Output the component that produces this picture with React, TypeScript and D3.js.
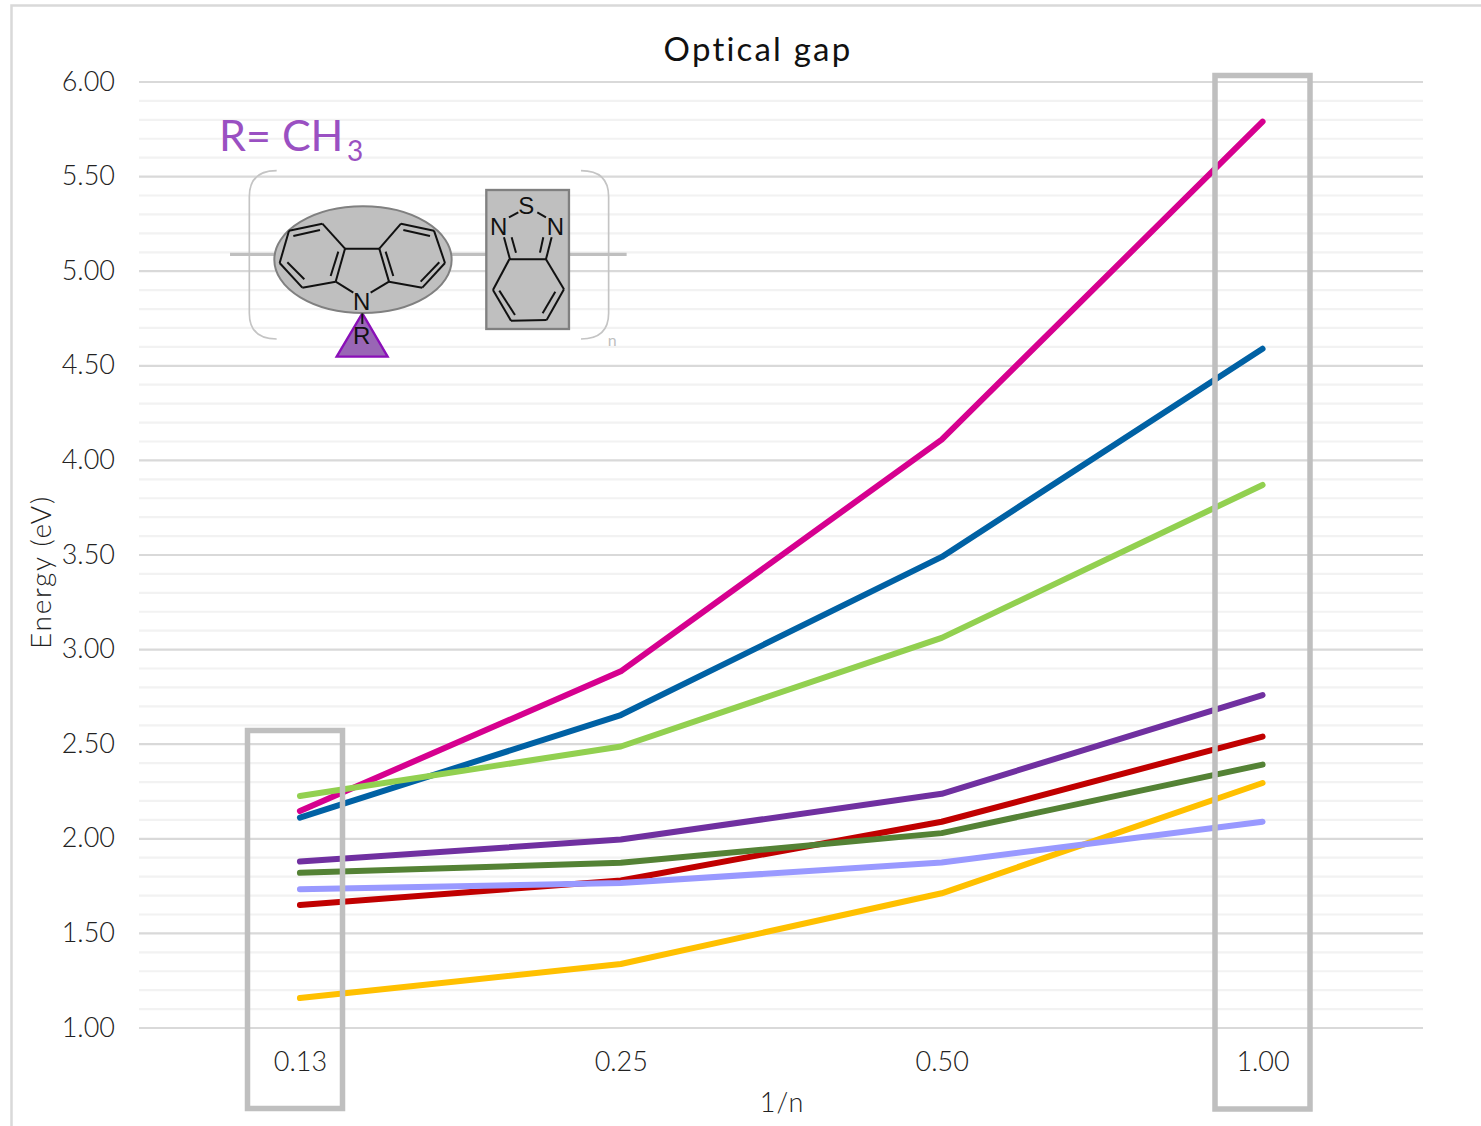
import React from "react";
import * as d3 from "d3";

const categories = ["0.13", "0.25", "0.50", "1.00"];
const magenta = [2.147, 2.885, 4.11, 5.79];
const blue = [2.112, 2.654, 3.49, 4.59];
const lightGreen = [2.226, 2.488, 3.062, 3.87];
const purple = [1.88, 1.996, 2.238, 2.76];
const red = [1.65, 1.78, 2.09, 2.54];
const darkGreen = [1.82, 1.873, 2.03, 2.392];
const yellow = [1.158, 1.338, 1.712, 2.295];
const lavender = [1.733, 1.766, 1.875, 2.09];

const seriesList: [number[], string][] = [
  [magenta, "#d6008f"],
  [blue, "#0061a4"],
  [lightGreen, "#92d050"],
  [purple, "#7030a0"],
  [red, "#c00000"],
  [darkGreen, "#548235"],
  [yellow, "#ffc000"],
  [lavender, "#9999ff"],
];
const majorTicks = [1, 1.5, 2, 2.5, 3, 3.5, 4, 4.5, 5, 5.5, 6];
const minorTicks = d3.range(10, 60).filter((d) => d % 5 !== 0).map((d) => d / 10);

const FONT = "Lato, 'Open Sans', sans-serif";
const x = d3.scaleBand<string>().domain(categories).range([139.5, 1423]);
const y = d3.scaleLinear().domain([1, 6]).range([1028, 82]);
const line = d3
  .line<number>()
  .x((_, i) => (x(categories[i]) as number) + x.bandwidth() / 2)
  .y((d) => y(d));

// Decorative structure drawing, in a 3x local coordinate system
const bonds: number[][] = [
  [237, 392, 337, 371], [337, 371, 405, 446], [405, 446, 377, 545], [377, 545, 277, 563], [277, 563, 209, 489], [209, 489, 237, 392],
  [250, 408, 330, 390], [232, 487, 283, 538], [385, 455, 362, 528],
  [573, 371, 672, 392], [672, 392, 705, 489], [705, 489, 637, 563], [637, 563, 537, 545], [537, 545, 508, 446], [508, 446, 573, 371],
  [580, 390, 660, 408], [688, 487, 632, 545], [527, 455, 550, 528],
  [405, 446, 508, 446], [377, 545, 430, 578], [537, 545, 482, 578], [457, 640, 457, 672],
  [897, 352, 925, 337], [982, 337, 1008, 352],
  [882, 412, 900, 478], [905, 412, 918, 458], [1025, 412, 1008, 478], [1000, 412, 990, 458],
  [898, 478, 1008, 478], [1008, 478, 1062, 568], [1062, 568, 1010, 660], [1010, 660, 903, 662], [903, 662, 849, 570], [849, 570, 898, 478],
  [868, 572, 915, 645], [1036, 575, 998, 640],
];

function Structure() {
  const atom = { fontFamily: "'Liberation Sans', sans-serif", fontSize: 72, fill: "#111", textAnchor: "middle" as const };
  return (
    <g transform="translate(210,100) scale(0.3333)">
      <path d="M200,212 Q118,212 118,290 L118,640 Q118,717 200,717" fill="none" stroke="#c4c4c4" strokeWidth={5} />
      <path d="M1113,212 Q1196,212 1196,290 L1196,640 Q1196,717 1113,717" fill="none" stroke="#c4c4c4" strokeWidth={5} />
      <line x1={60} x2={1250} y1={463} y2={463} stroke="#bfbfbf" strokeWidth={10} />
      <polygon points="457,640 380,770 533,770" fill="#9966b5" stroke="#8a0fb8" strokeWidth={7} />
      <ellipse cx={459} cy={479} rx={266} ry={160} fill="#bfbfbf" stroke="#808080" strokeWidth={6} />
      <rect x={829} y={270} width={248} height={417} fill="#bfbfbf" stroke="#808080" strokeWidth={7} />
      {bonds.map((b, i) => (
        <line key={i} x1={b[0]} y1={b[1]} x2={b[2]} y2={b[3]} stroke="#111" strokeWidth={6} />
      ))}
      <text x={455} y={631} {...atom}>N</text>
      <text x={455} y={733} {...atom}>R</text>
      <text x={949} y={343} {...atom}>S</text>
      <text x={866} y={406} {...atom}>N</text>
      <text x={1036} y={406} {...atom}>N</text>
      <text x={1207} y={738} fontFamily={FONT} fontSize={48} fill="#bfbfbf" textAnchor="middle">n</text>
    </g>
  );
}

export default function App() {
  return (
    <svg width={1481} height={1126} style={{ position: "absolute", left: 0, top: 0, background: "#fff" }}>
      <path d="M11.5,1126 L11.5,5.5 L1481,5.5" fill="none" stroke="#d9d9d9" strokeWidth={2.5} />
      {minorTicks.map((t) => (
        <line key={t} x1={139} x2={1423} y1={y(t)} y2={y(t)} stroke="#f2f2f2" strokeWidth={2.2} />
      ))}
      {majorTicks.map((t) => (
        <line key={t} x1={139} x2={1423} y1={y(t)} y2={y(t)} stroke="#d9d9d9" strokeWidth={2.2} />
      ))}
      <Structure />
      <text x={219} y={151} fontFamily={FONT} fontWeight={400} fontSize={43} fill="#9a50c2">R= CH</text>
      <text x={347} y={161} fontFamily={FONT} fontWeight={400} fontSize={28} fill="#9a50c2">3</text>
      {seriesList.map(([vals, color]) => (
        <path key={color} d={line(vals) as string} fill="none" stroke={color} strokeWidth={6} strokeLinecap="round" strokeLinejoin="round" />
      ))}
      <rect x={247.5} y={730.5} width={95} height={378} fill="none" stroke="#bfbfbf" strokeWidth={5.5} />
      <rect x={1215} y={75.5} width={95} height={1033.5} fill="none" stroke="#bfbfbf" strokeWidth={5.5} />
      {majorTicks.map((t) => (
        <text key={t} x={115} y={y(t) + 8.5} textAnchor="end" fontFamily={FONT} fontWeight={300} fontSize={27} fill="#222">{d3.format(".2f")(t)}</text>
      ))}
      {categories.map((c) => (
        <text key={c} x={(x(c) as number) + x.bandwidth() / 2 + 0.5} y={1071} textAnchor="middle" fontFamily={FONT} fontWeight={300} fontSize={27} fill="#222">{c}</text>
      ))}
      <text x={758} y={60.5} textAnchor="middle" fontFamily={FONT} fontWeight={400} fontSize={33} letterSpacing={2.2} fill="#111">Optical gap</text>
      <text x={782} y={1112} textAnchor="middle" fontFamily={FONT} fontWeight={300} fontSize={27} letterSpacing={1} fill="#222">1/n</text>
      <text transform="translate(51,572) rotate(-90)" textAnchor="middle" fontFamily={FONT} fontWeight={300} fontSize={28} letterSpacing={1.7} fill="#222">Energy (eV)</text>
    </svg>
  );
}
